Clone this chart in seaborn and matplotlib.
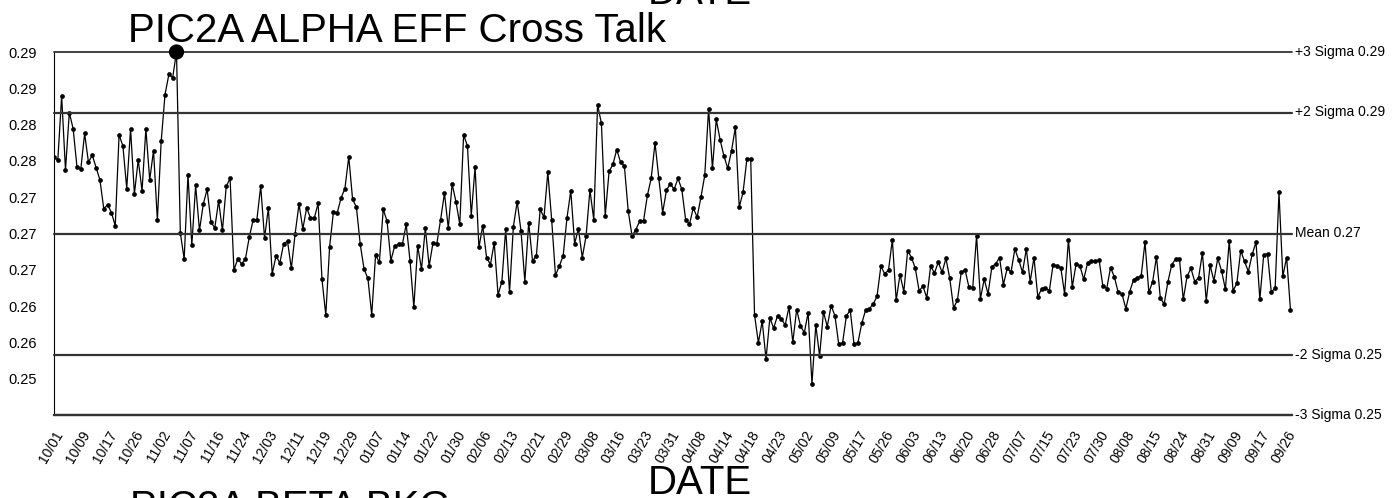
import numpy as np
import pandas as pd
import matplotlib
matplotlib.use("Agg")
import matplotlib.pyplot as plt
import seaborn as sns

# Date labels shown every 7th sample
tick_dates = ["10/01", "10/09", "10/17", "10/26", "11/02", "11/07", "11/16", "11/24",
              "12/03", "12/11", "12/19", "12/29", "01/07", "01/14", "01/22", "01/30",
              "02/06", "02/13", "02/21", "02/29", "03/08", "03/16", "03/23", "03/31",
              "04/08", "04/14", "04/18", "04/23", "05/02", "05/09", "05/17", "05/26",
              "06/03", "06/13", "06/20", "06/28", "07/07", "07/15", "07/23", "07/30",
              "08/08", "08/15", "08/24", "08/31", "09/09", "09/17", "09/26"]
samples_per_tick = 7

# Alpha efficiency cross talk, one value per sample
values = [
    0.2798, 0.2795, 0.2877, 0.2782, 0.2856, 0.2835, 0.2786, 0.2783, 0.2829, 0.2792,
    0.2801, 0.2785, 0.2769, 0.2732, 0.2737, 0.2727, 0.2710, 0.2827, 0.2813, 0.2758,
    0.2835, 0.2751, 0.2795, 0.2755, 0.2835, 0.2769, 0.2807, 0.2717, 0.2819, 0.2879,
    0.2905, 0.2901, 0.2934, 0.2701, 0.2667, 0.2776, 0.2685, 0.2762, 0.2704, 0.2738,
    0.2757, 0.2715, 0.2707, 0.2742, 0.2704, 0.2761, 0.2771, 0.2653, 0.2667, 0.2661,
    0.2667, 0.2695, 0.2717, 0.2718, 0.2761, 0.2694, 0.2733, 0.2648, 0.2671, 0.2662,
    0.2687, 0.2690, 0.2655, 0.2700, 0.2738, 0.2706, 0.2733, 0.2720, 0.2720, 0.2739,
    0.2641, 0.2595, 0.2683, 0.2728, 0.2727, 0.2746, 0.2758, 0.2799, 0.2744, 0.2734,
    0.2686, 0.2654, 0.2642, 0.2595, 0.2672, 0.2663, 0.2731, 0.2716, 0.2665, 0.2684,
    0.2686, 0.2686, 0.2712, 0.2665, 0.2605, 0.2684, 0.2654, 0.2707, 0.2658, 0.2688,
    0.2687, 0.2718, 0.2752, 0.2707, 0.2764, 0.2741, 0.2712, 0.2827, 0.2813, 0.2723,
    0.2786, 0.2682, 0.2710, 0.2669, 0.2660, 0.2688, 0.2621, 0.2638, 0.2706, 0.2624,
    0.2709, 0.2741, 0.2703, 0.2638, 0.2714, 0.2665, 0.2671, 0.2731, 0.2721, 0.2779,
    0.2718, 0.2646, 0.2658, 0.2671, 0.2720, 0.2755, 0.2687, 0.2706, 0.2669, 0.2697,
    0.2756, 0.2718, 0.2866, 0.2842, 0.2723, 0.2780, 0.2789, 0.2808, 0.2792, 0.2787,
    0.2729, 0.2697, 0.2705, 0.2716, 0.2716, 0.2749, 0.2771, 0.2817, 0.2771, 0.2727,
    0.2756, 0.2764, 0.2757, 0.2771, 0.2757, 0.2718, 0.2712, 0.2733, 0.2721, 0.2747,
    0.2775, 0.2861, 0.2784, 0.2847, 0.2821, 0.2800, 0.2784, 0.2807, 0.2837, 0.2734,
    0.2753, 0.2796, 0.2796, 0.2595, 0.2559, 0.2587, 0.2538, 0.2591, 0.2578, 0.2594,
    0.2590, 0.2582, 0.2605, 0.2560, 0.2602, 0.2581, 0.2572, 0.2598, 0.2506, 0.2582,
    0.2542, 0.2599, 0.2580, 0.2607, 0.2594, 0.2557, 0.2559, 0.2594, 0.2601, 0.2557,
    0.2559, 0.2584, 0.2601, 0.2603, 0.2609, 0.2619, 0.2658, 0.2648, 0.2653, 0.2692,
    0.2614, 0.2647, 0.2625, 0.2678, 0.2669, 0.2655, 0.2626, 0.2632, 0.2617, 0.2658,
    0.2649, 0.2663, 0.2650, 0.2668, 0.2642, 0.2604, 0.2614, 0.2650, 0.2653, 0.2631,
    0.2630, 0.2697, 0.2616, 0.2641, 0.2622, 0.2657, 0.2661, 0.2669, 0.2634, 0.2655,
    0.2650, 0.2680, 0.2666, 0.2650, 0.2680, 0.2638, 0.2669, 0.2618, 0.2629, 0.2630,
    0.2626, 0.2660, 0.2658, 0.2656, 0.2622, 0.2692, 0.2631, 0.2661, 0.2658, 0.2641,
    0.2662, 0.2664, 0.2664, 0.2666, 0.2632, 0.2629, 0.2656, 0.2644, 0.2624, 0.2622,
    0.2603, 0.2625, 0.2640, 0.2643, 0.2645, 0.2689, 0.2624, 0.2638, 0.2670, 0.2617,
    0.2609, 0.2638, 0.2660, 0.2667, 0.2667, 0.2615, 0.2645, 0.2655, 0.2638, 0.2643,
    0.2675, 0.2613, 0.2659, 0.2639, 0.2668, 0.2652, 0.2628, 0.2690, 0.2626, 0.2636,
    0.2678, 0.2664, 0.2651, 0.2673, 0.2689, 0.2615, 0.2672, 0.2674, 0.2624, 0.2630,
    0.2753, 0.2645, 0.2669, 0.2602,
]

# Control limits
mean_val = 0.2700
sigma = 0.0078
out_of_control = [32]

sns.set_style("white")
plt.rcParams['font.family'] = ['Liberation Sans', 'DejaVu Sans']
for key in ["text.color", "axes.labelcolor", "xtick.color", "ytick.color"]:
    plt.rcParams[key] = "black"

W, H = 1399, 498
fig = plt.figure(figsize=(W / 100, H / 100), dpi=100)
ax = fig.add_axes([54 / W, 1 - 415 / H, (1292 - 54) / W, 363 / H])

df = pd.DataFrame({"sample": np.arange(len(values)), "value": values})
sns.lineplot(data=df, x="sample", y="value", ax=ax, color="black", linewidth=0.9,
             marker="o", markersize=3.4, markeredgewidth=0, markerfacecolor="black")
flag = df.iloc[out_of_control]
sns.scatterplot(data=flag, x="sample", y="value", ax=ax, color="black", s=120,
                edgecolor="none", zorder=5, clip_on=False)

lo, hi = mean_val - 3 * sigma, mean_val + 3 * sigma
ax.set_xlim(0, len(values) - 1 + 0.4)
ax.set_ylim(lo, hi)

# Control lines with labels at the right edge
limits = [("+3 Sigma", 3), ("+2 Sigma", 2), ("Mean", 0), ("-2 Sigma", -2), ("-3 Sigma", -3)]
for name, k in limits:
    yv = mean_val + k * sigma
    ax.axhline(yv, color="#333333", linewidth=1.6 if k != 3 else 1.3, clip_on=False, zorder=3)
    ax.text(1.0025, yv, f"{name} {yv:.2f}", transform=ax.get_yaxis_transform(),
            fontsize=10, va="center", ha="left", color="black")

step = 6 * sigma / 10
yticks = [hi - k * step for k in range(10)]
ax.set_yticks(yticks)
ax.set_yticklabels([f"{t:.2f}" for t in yticks], fontsize=10.5)

xticks = np.arange(0, len(tick_dates) * samples_per_tick, samples_per_tick)
ax.set_xticks(xticks)
ax.set_xticklabels(tick_dates, rotation=60, ha="right", rotation_mode="anchor", fontsize=10)

ax.set_xlabel("")
ax.set_ylabel("")
for side in ["top", "right"]:
    ax.spines[side].set_visible(False)
ax.spines["left"].set_color("black")
ax.spines["left"].set_linewidth(0.8)
ax.spines["bottom"].set_color("#333333")
ax.spines["bottom"].set_linewidth(1.6)
ax.tick_params(axis="y", direction="out", length=6, width=0.8, color="black", pad=6)
ax.tick_params(axis="x", direction="inout", length=9, width=0.8, color="black", pad=5)

big = 29
fig.text(128 / W, 1 - 42 / H, "PIC2A ALPHA EFF Cross Talk", fontsize=big, ha="left", va="baseline")
fig.text(700 / W, 1 - 4 / H, "DATE", fontsize=big, ha="center", va="baseline")
fig.text(700 / W, 1 - 494 / H, "DATE", fontsize=big, ha="center", va="baseline")
fig.text(130 / W, 1 - 519 / H, "PIC2A BETA BKG", fontsize=big, ha="left", va="baseline")

fig.savefig("out.png", dpi=100)
